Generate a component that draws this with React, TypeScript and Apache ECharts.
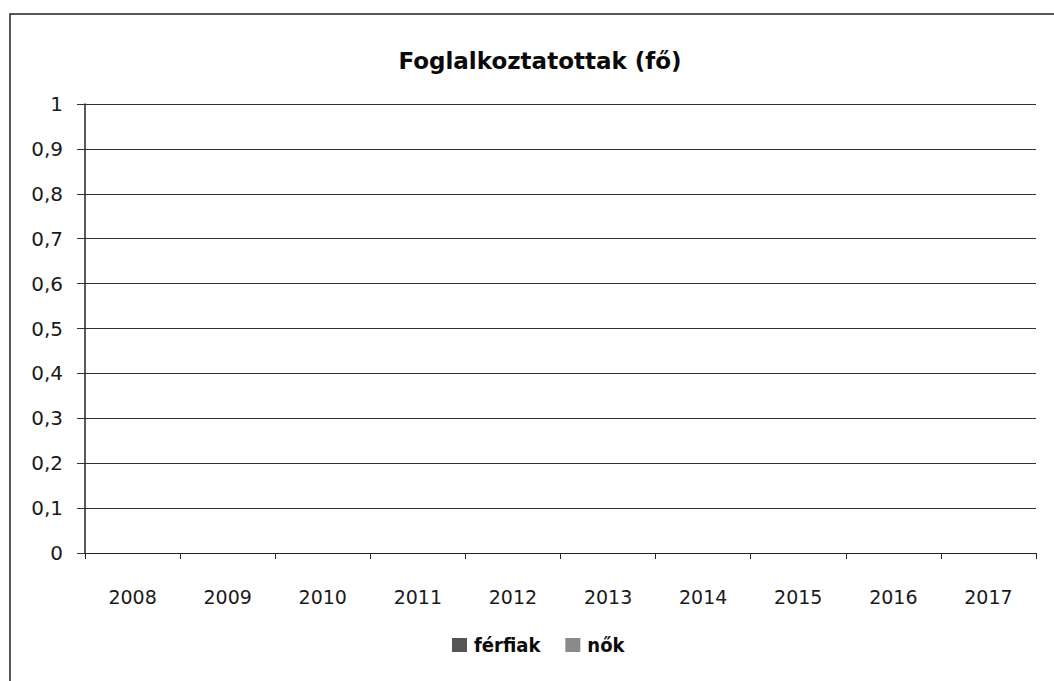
import React, { useEffect, useRef } from "react";
import * as echarts from "echarts";

const title = "Foglalkoztatottak (fő)";
const categories = ["2008", "2009", "2010", "2011", "2012", "2013", "2014", "2015", "2016", "2017"];
const seriesNames = ["férfiak", "nők"];
const ferfiak: (number | null)[] = [null, null, null, null, null, null, null, null, null, null];
const nok: (number | null)[] = [null, null, null, null, null, null, null, null, null, null];
const yMin = 0;
const yMax = 1;
const yStep = 0.1;

export default function App() {
  const ref = useRef<HTMLDivElement>(null);
  useEffect(() => {
    if (!ref.current) return;
    const chart = echarts.init(ref.current, undefined, { renderer: "svg" });
    const font = "'DejaVu Sans', sans-serif";
    const condensed = "'DejaVu Sans Condensed', 'DejaVu Sans', sans-serif";
    chart.setOption({
      animation: false,
      backgroundColor: "#ffffff",
      title: {
        text: title,
        left: 535,
        textAlign: "center",
        top: 44,
        textStyle: { fontFamily: font, fontSize: 23, fontWeight: "bold", color: "#0a0a0a" },
      },
      graphic: [
        {
          type: "rect",
          shape: { x: 10, y: 14, width: 1100, height: 720 },
          style: { fill: "none", stroke: "#222", lineWidth: 1.5 },
          silent: true,
        },
      ],
      legend: {
        top: 630,
        left: 447,
        icon: "rect",
        itemWidth: 15,
        itemHeight: 14,
        itemGap: 25,
        textStyle: { fontFamily: condensed, fontSize: 20, fontWeight: "bold", color: "#0a0a0a", padding: [0, 0, 0, 2] },
        data: seriesNames,
      },
      grid: { left: 85, right: 18, top: 104, bottom: 128, containLabel: false },
      xAxis: {
        type: "category",
        data: categories,
        axisLine: { show: true, lineStyle: { color: "#222", width: 1 } },
        axisTick: { show: true, length: 6, lineStyle: { color: "#222" } },
        axisLabel: { fontFamily: font, fontSize: 19, color: "#1a1a1a", margin: 34 },
      },
      yAxis: {
        type: "value",
        min: yMin,
        max: yMax,
        interval: yStep,
        axisLine: { show: true, lineStyle: { color: "#222", width: 1.5 } },
        axisTick: { show: true, length: 8, lineStyle: { color: "#333" } },
        splitLine: { show: true, lineStyle: { color: "#333", width: 1 } },
        axisLabel: {
          fontFamily: font,
          fontSize: 20,
          color: "#1a1a1a",
          margin: 22,
          formatter: (v: number) => String(Math.round(v * 10) / 10).replace(".", ","),
        },
      },
      series: [
        { name: seriesNames[0], type: "bar", data: ferfiak, itemStyle: { color: "#555555" } },
        { name: seriesNames[1], type: "bar", data: nok, itemStyle: { color: "#8a8a8a" } },
      ],
    });
    return () => chart.dispose();
  }, []);
  return (
    <div
      ref={ref}
      style={{ position: "absolute", left: 0, top: 0, width: 1054, height: 681 }}
    />
  );
}
